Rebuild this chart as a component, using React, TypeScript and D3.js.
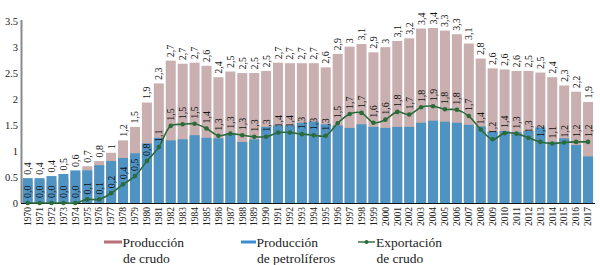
import React from "react";
import * as d3 from "d3";

const years = ["1970","1971","1972","1973","1974","1975","1976","1977","1978","1979","1980","1981","1982","1983","1984","1985","1986","1987","1988","1989","1990","1991","1992","1993","1994","1995","1996","1997","1998","1999","2000","2001","2002","2003","2004","2005","2006","2007","2008","2009","2010","2011","2012","2013","2014","2015","2016","2017"];

const crude = [0.43,0.43,0.44,0.47,0.58,0.71,0.81,0.97,1.21,1.47,1.94,2.31,2.75,2.69,2.71,2.65,2.43,2.54,2.51,2.51,2.55,2.71,2.70,2.70,2.70,2.62,2.88,3.02,3.07,2.91,3.01,3.13,3.18,3.37,3.38,3.33,3.26,3.08,2.79,2.60,2.58,2.55,2.55,2.52,2.43,2.27,2.15,1.95];

const crudeLabels = ["0,4","0,4","0,4","0,5","0,6","0,7","0,8","1","1,2","1,5","1,9","2,3","2,7","2,7","2,7","2,6","2,4","2,5","2,5","2,5","2,5","2,7","2,7","2,7","2,7","2,6","2,9","3","3,1","2,9","3","3,1","3,2","3,4","3,4","3,3","3,3","3,1","2,8","2,6","2,6","2,6","2,5","2,5","2,4","2,3","2,2","1,9"];

const refined = [0.48,0.48,0.52,0.56,0.63,0.63,0.73,0.81,0.87,0.96,1.15,1.26,1.21,1.23,1.31,1.26,1.25,1.34,1.18,1.23,1.47,1.50,1.50,1.55,1.57,1.52,1.50,1.45,1.52,1.47,1.45,1.47,1.47,1.55,1.59,1.57,1.55,1.51,1.48,1.38,1.39,1.37,1.39,1.46,1.18,1.25,1.12,0.90];

const exportsCrude = [0,0,0,0,0,0.07,0.07,0.19,0.36,0.52,0.81,1.08,1.49,1.52,1.53,1.44,1.30,1.34,1.31,1.28,1.28,1.36,1.36,1.33,1.31,1.30,1.54,1.72,1.74,1.55,1.61,1.76,1.71,1.85,1.87,1.81,1.80,1.68,1.42,1.23,1.35,1.34,1.26,1.18,1.15,1.17,1.18,1.18];

const exportLabels = ["0,0","0,0","0,0","0,0","0,0","0,1","0,1","0,2","0,4","0,5","0,8","1,1","1,5","1,5","1,5","1,4","1,3","1,3","1,3","1,3","1,3","1,4","1,4","1,3","1,3","1,3","1,5","1,7","1,7","1,6","1,6","1,8","1,7","1,8","1,9","1,8","1,8","1,7","1,4","1,2","1,4","1,3","1,3","1,2","1,1","1,2","1,2","1,2"];

const yTicks = [0, 0.5, 1, 1.5, 2, 2.5, 3, 3.5];
const yTickLabels = ["0", "0.5", "1", "1.5", "2", "2.5", "3", "3.5"];

const legendItems = [
  { l1: "Producción", l2: "de crudo" },
  { l1: "Producción", l2: "de petrolíferos" },
  { l1: "Exportación", l2: "de crudo" },
];

const W = 600;
const H = 265;
const FONT = "'Liberation Serif', 'Times New Roman', serif";
const PINK = "#c9afaf";
const BLUE = "#4f93c3";
const GREEN = "#2b6a3a";

export default function App() {
  const x = d3.scaleBand<string>().domain(years).range([21.7, 594]).paddingInner(0.16).paddingOuter(0.08);
  const y = d3.scaleLinear().domain([0, 3.5]).range([203, 21.8]);
  const bw = x.bandwidth();
  const cx = (i: number) => (x(years[i]) as number) + bw / 2;

  const line = d3
    .line<number>()
    .x((_, i) => cx(i))
    .y((d) => y(d))
    .curve(d3.curveCatmullRom.alpha(0.5));

  return (
    <svg width={W} height={H} style={{ position: "absolute", left: 0, top: 0, background: "#fff" }}>
      {/* bars */}
      {crude.map((v, i) => (
        <rect key={"c" + i} x={x(years[i])} y={y(v)} width={bw} height={y(0) - y(v)} fill={PINK} />
      ))}
      {refined.map((v, i) => (
        <rect key={"r" + i} x={x(years[i])} y={y(v)} width={bw} height={y(0) - y(v)} fill={BLUE} />
      ))}
      {/* axes */}
      <line x1={21.5} x2={21.5} y1={20} y2={203} stroke="#8a8a8a" strokeWidth={2} />
      <line x1={21} x2={595} y1={203.5} y2={203.5} stroke="#111" strokeWidth={1.2} />
      {yTicks.map((t, i) => (
        <text key={"yt" + i} x={18} y={y(t) + 3.5} textAnchor="end" fontSize={10.5} fontFamily={FONT} fill="#222">
          {yTickLabels[i]}
        </text>
      ))}
      {years.map((yr, i) => (
        <text
          key={"xl" + i}
          transform={`translate(${cx(i) + 3.3},${207}) rotate(-90)`}
          textAnchor="end"
          fontSize={9.5}
          fontFamily={FONT}
          fill="#222"
        >
          {yr}
        </text>
      ))}
      {/* export line */}
      <path d={line(exportsCrude) || ""} fill="none" stroke={GREEN} strokeWidth={1.6} />
      {exportsCrude.map((v, i) => (
        <circle key={"p" + i} cx={cx(i)} cy={y(v)} r={2.3} fill={GREEN} />
      ))}
      {/* crude labels */}
      {crude.map((v, i) => (
        <text
          key={"cl" + i}
          transform={`translate(${cx(i) + 3.5},${y(Math.max(v, refined[i])) - 3.5}) rotate(-90)`}
          textAnchor="start"
          fontSize={10}
          fontFamily={FONT}
          fill="#111"
        >
          {crudeLabels[i]}
        </text>
      ))}
      {/* export labels */}
      {exportsCrude.map((v, i) => (
        <text
          key={"el" + i}
          transform={`translate(${cx(i) + 3.5},${y(v) - 5}) rotate(-90)`}
          textAnchor="start"
          fontSize={10}
          fontFamily={FONT}
          fill="#111"
        >
          {exportLabels[i]}
        </text>
      ))}
      {/* legend */}
      <rect x={104} y={240.5} width={18} height={3} fill="#b86f77" />
      <rect x={241} y={240.5} width={15} height={3} fill="#3a8fd3" />
      <line x1={358} x2={375} y1={242} y2={242} stroke={GREEN} strokeWidth={1.4} />
      <circle cx={366.5} cy={242} r={2} fill={GREEN} />
      {legendItems.map((it, i) => {
        const lx = [122.5, 256.5, 376][i];
        return (
          <g key={"lg" + i}>
            <text x={lx} y={247} fontSize={13.5} fontFamily={FONT} fill="#222">{it.l1}</text>
            <text x={lx + 0.5} y={263} fontSize={13.5} fontFamily={FONT} fill="#222">{it.l2}</text>
          </g>
        );
      })}
    </svg>
  );
}
